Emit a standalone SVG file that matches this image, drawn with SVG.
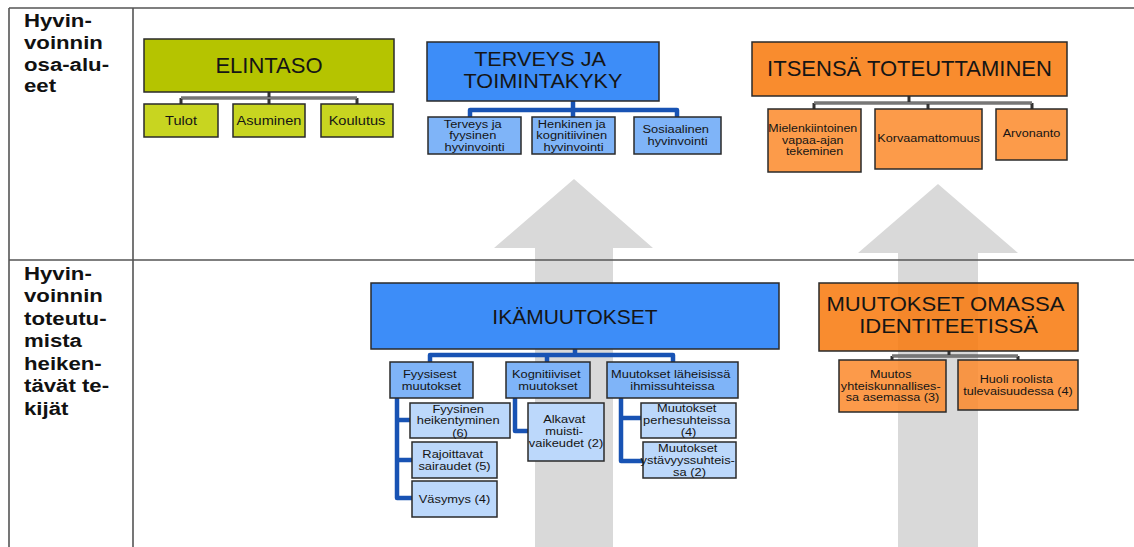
<svg xmlns="http://www.w3.org/2000/svg" width="1134" height="547" viewBox="0 0 1134 547">
  <style>
    .grid { stroke: #555; stroke-width: 1.6; fill: none; }
    .arrow { fill: #d9d9d9; }
    .box { stroke: #2a2a2a; stroke-width: 1.5; }
    .olive-h { fill: #b5c400; }
    .olive-c { fill: #c8d520; }
    .blue-h { fill: #3d8df8; }
    .blue-c { fill: #7fb4f8; }
    .blue-l { fill: #bcd8fb; }
    .orange-h { fill: #f98c2e; }
    .orange-c { fill: #fc9b4a; }
    .orange-ht { fill: #f8780a; fill-opacity: 0.85; }
    .orange-ct { fill: #fc882a; fill-opacity: 0.85; }
    .thin-o { stroke: #333; stroke-width: 3; fill: none; }
    .thin-i { stroke: #bbb; stroke-width: 1; fill: none; }
    .thick { stroke: #1853b4; stroke-width: 4.5; fill: none; stroke-linejoin: round; }
    .t { font-family: "Liberation Sans", Arial, sans-serif; fill: #151515; text-anchor: middle; }
    .hd { font-size: 21px; }
    .hd2 { font-size: 22px; }
    .md { font-size: 13.5px; }
    .sm { font-size: 11.5px; }
    .lbl { font-family: "Liberation Sans", Arial, sans-serif; font-weight: bold; font-size: 18.5px; fill: #111; }
  </style>

  <!-- background arrows -->
  <g id="arrows">
    <polygon class="arrow" points="574,179 653,248 613,248 613,547 535,547 535,248 494,248"/>
    <polygon class="arrow" points="938,184 1018,253 978,253 978,547 898,547 898,253 858,253"/>
  </g>

  <!-- table frame -->
  <g id="frame">
    <path class="grid" d="M9 8 H1134 M9 260 H1134 M9 8 V547 M133 8 V547"/>
  </g>

  <!-- row labels -->
  <g id="label-top">
    <text class="lbl" transform="translate(24 0) scale(1.2 1)">
      <tspan x="0" y="27">Hyvin-</tspan>
      <tspan x="0" y="49">voinnin</tspan>
      <tspan x="0" y="71">osa-alu-</tspan>
      <tspan x="0" y="92">eet</tspan>
    </text>
  </g>
  <g id="label-bottom">
    <text class="lbl" transform="translate(24 0) scale(1.2 1)">
      <tspan x="0" y="280">Hyvin-</tspan>
      <tspan x="0" y="302.5">voinnin</tspan>
      <tspan x="0" y="325">toteutu-</tspan>
      <tspan x="0" y="347.5">mista</tspan>
      <tspan x="0" y="370">heiken-</tspan>
      <tspan x="0" y="392.5">tävät te-</tspan>
      <tspan x="0" y="415">kijät</tspan>
    </text>
  </g>

  <!-- connectors -->
  <g id="connectors">
    <path class="thin-o" d="M269 92 V98 M181 98 H357 M181 98 V104 M269 98 V104 M357 98 V104"/>
    <path class="thin-i" d="M181 98 H357"/>
    <path class="thin-o" d="M909 96 V103 M814 103 H1032 M814 103 V109 M928 103 V109 M1032 103 V109"/>
    <path class="thin-i" d="M814 103 H1032"/>
    <path class="thin-o" d="M949 351 V356 M892 356 H1018 M892 356 V360 M1018 356 V360"/>
    <path class="thin-i" d="M892 356 H1018"/>
    <path class="thick" d="M573 101 V110 M470 117 V110 H677 V117 M573 110 V117"/>
    <path class="thick" d="M575 349 V355 M430 362 V355 H673 V362 M547 355 V362"/>
    <path class="thick" d="M397 398 V498 H412 M397 420 H410 M397 460 H412"/>
    <path class="thick" d="M515 398 V431 H528"/>
    <path class="thick" d="M621 398 V461 H643 M621 418 H641"/>
  </g>

  <!-- ELINTASO -->
  <g id="elintaso">
    <rect class="box olive-h" x="144" y="39" width="250" height="53"/>
    <text class="t hd2" x="269" y="73">ELINTASO</text>
  </g>
  <g id="tulot">
    <rect class="box olive-c" x="144" y="104" width="74" height="33"/>
    <text class="t md" transform="translate(181 0) scale(1.08 1)" x="0" y="125">Tulot</text>
  </g>
  <g id="asuminen">
    <rect class="box olive-c" x="233" y="104" width="72" height="33"/>
    <text class="t md" transform="translate(269 0) scale(1.08 1)" x="0" y="125">Asuminen</text>
  </g>
  <g id="koulutus">
    <rect class="box olive-c" x="321" y="104" width="72" height="33"/>
    <text class="t md" transform="translate(357 0) scale(1.08 1)" x="0" y="125">Koulutus</text>
  </g>

  <!-- TERVEYS JA TOIMINTAKYKY -->
  <g id="terveys">
    <rect class="box blue-h" x="427" y="42" width="232" height="59"/>
    <text class="t hd" transform="translate(543 0) scale(1.03 1)">
      <tspan x="0" y="66.5">TERVEYS JA</tspan>
      <tspan x="0" y="88">TOIMINTAKYKY</tspan>
    </text>
  </g>
  <g id="fyysinen-hyvinvointi">
    <rect class="box blue-c" x="428" y="117" width="93" height="37"/>
    <text class="t sm" transform="translate(474.5 0) scale(1.12 1)">
      <tspan x="0" y="128">Terveys ja</tspan>
      <tspan x="0" y="139.5">fyysinen</tspan>
      <tspan x="0" y="151">hyvinvointi</tspan>
    </text>
  </g>
  <g id="henkinen-hyvinvointi">
    <rect class="box blue-c" x="532" y="117" width="83" height="37"/>
    <text class="t sm" transform="translate(573.5 0) scale(1.12 1)">
      <tspan x="0" y="128">Henkinen ja</tspan>
      <tspan x="0" y="139.5">kognitiivinen</tspan>
      <tspan x="0" y="151">hyvinvointi</tspan>
    </text>
  </g>
  <g id="sosiaalinen-hyvinvointi">
    <rect class="box blue-c" x="634" y="117" width="87" height="37"/>
    <text class="t sm" transform="translate(677.5 0) scale(1.12 1)">
      <tspan x="0" y="133.5">Sosiaalinen</tspan>
      <tspan x="0" y="145">hyvinvointi</tspan>
    </text>
  </g>

  <!-- ITSENSÄ TOTEUTTAMINEN -->
  <g id="itsensa">
    <rect class="box orange-h" x="752" y="42" width="315" height="54"/>
    <text class="t hd2" x="909.5" y="76">ITSENSÄ TOTEUTTAMINEN</text>
  </g>
  <g id="vapaa-aika">
    <rect class="box orange-c" x="768" y="109" width="93" height="63"/>
    <text class="t sm" transform="translate(814.5 0) scale(1.08 1)">
      <tspan x="0" y="132.5">Mielenkiintoinen</tspan>
      <tspan x="0" y="144">vapaa-ajan</tspan>
      <tspan x="0" y="155.5">tekeminen</tspan>
    </text>
  </g>
  <g id="korvaamattomuus">
    <rect class="box orange-c" x="875" y="109" width="107" height="60"/>
    <text class="t sm" transform="translate(928.5 0) scale(1.1 1)" x="0" y="142.5">Korvaamattomuus</text>
  </g>
  <g id="arvonanto">
    <rect class="box orange-c" x="996" y="109" width="71" height="51"/>
    <text class="t sm" transform="translate(1031.5 0) scale(1.1 1)" x="0" y="137.5">Arvonanto</text>
  </g>

  <!-- IKÄMUUTOKSET -->
  <g id="ikamuutokset">
    <rect class="box blue-h" x="371" y="283" width="408" height="66"/>
    <text class="t hd" x="575" y="323.5">IKÄMUUTOKSET</text>
  </g>
  <g id="fyysisest-muutokset">
    <rect class="box blue-c" x="390" y="362" width="83" height="36"/>
    <text class="t sm" transform="translate(431.5 0) scale(1.12 1)">
      <tspan x="0" y="378.3">Fyysisest</tspan>
      <tspan x="0" y="389.8">muutokset</tspan>
    </text>
  </g>
  <g id="kognitiiviset-muutokset">
    <rect class="box blue-c" x="506" y="362" width="84" height="36"/>
    <text class="t sm" transform="translate(548 0) scale(1.12 1)">
      <tspan x="0" y="378.3">Kognitiiviset</tspan>
      <tspan x="0" y="389.8">muutokset</tspan>
    </text>
  </g>
  <g id="ihmissuhteet">
    <rect class="box blue-c" x="607" y="362" width="131" height="36"/>
    <text class="t sm" transform="translate(672.5 0) scale(1.12 1)">
      <tspan x="0" y="378.3">Muutokset läheisissä</tspan>
      <tspan x="0" y="389.8">ihmissuhteissa</tspan>
    </text>
  </g>
  <g id="heikentyminen">
    <rect class="box blue-l" x="410" y="403" width="100" height="35"/>
    <text class="t sm" transform="translate(460 0) scale(1.12 1)">
      <tspan x="0" y="413">Fyysinen</tspan>
      <tspan x="0" y="424.5">heikentyminen</tspan>
      <tspan x="0" y="437">(6)</tspan>
    </text>
  </g>
  <g id="sairaudet">
    <rect class="box blue-l" x="412" y="442" width="85" height="36"/>
    <text class="t sm" transform="translate(454.5 0) scale(1.12 1)">
      <tspan x="0" y="458.3">Rajoittavat</tspan>
      <tspan x="0" y="469.8">sairaudet (5)</tspan>
    </text>
  </g>
  <g id="vasymys">
    <rect class="box blue-l" x="412" y="481" width="85" height="36"/>
    <text class="t sm" transform="translate(454.5 0) scale(1.12 1)" x="0" y="503">Väsymys (4)</text>
  </g>
  <g id="muistivaikeudet">
    <rect class="box blue-l" x="528" y="403" width="76" height="58"/>
    <text class="t sm" transform="translate(566 0) scale(1.12 1)">
      <tspan x="0" y="423.3">Alkavat</tspan>
      <tspan x="0" y="435">muisti-</tspan>
      <tspan x="0" y="446.7">vaikeudet (2)</tspan>
    </text>
  </g>
  <g id="perhesuhteet">
    <rect class="box blue-l" x="641" y="403" width="95" height="35"/>
    <text class="t sm" transform="translate(688.5 0) scale(1.12 1)">
      <tspan x="0" y="412.5">Muutokset</tspan>
      <tspan x="0" y="424.3">perhesuhteissa</tspan>
      <tspan x="0" y="436.5">(4)</tspan>
    </text>
  </g>
  <g id="ystavyyssuhteet">
    <rect class="box blue-l" x="643" y="442" width="93" height="36"/>
    <text class="t sm" transform="translate(689.5 0) scale(1.12 1)">
      <tspan x="0" y="452">Muutokset</tspan>
      <tspan x="0" y="464">ystävyyssuhteis-</tspan>
      <tspan x="0" y="476">sa (2)</tspan>
    </text>
  </g>

  <!-- MUUTOKSET OMASSA IDENTITEETISSÄ -->
  <g id="identiteetti">
    <rect class="box orange-ht" x="819" y="283" width="259" height="68"/>
    <text class="t hd" transform="translate(948.5 0) scale(1.05 1)">
      <tspan x="0" y="311">MUUTOKSET OMASSA</tspan>
      <tspan x="0" y="333">IDENTITEETISSÄ</tspan>
    </text>
  </g>
  <g id="yhteiskunnallinen-asema">
    <rect class="box orange-ct" x="839" y="360" width="107" height="52"/>
    <text class="t sm" transform="translate(892.5 0) scale(1.1 1)">
      <tspan x="0" y="378.5">Muutos</tspan>
      <tspan x="0" y="390">yhteiskunnallises-</tspan>
      <tspan x="0" y="401.5">sa asemassa (3)</tspan>
    </text>
  </g>
  <g id="roolihuoli">
    <rect class="box orange-ct" x="958" y="360" width="120" height="50"/>
    <text class="t sm" transform="translate(1018 0) scale(1.1 1)">
      <tspan x="0" y="383.3">Huoli roolista</tspan>
      <tspan x="0" y="394.7">tulevaisuudessa (4)</tspan>
    </text>
  </g>
</svg>
